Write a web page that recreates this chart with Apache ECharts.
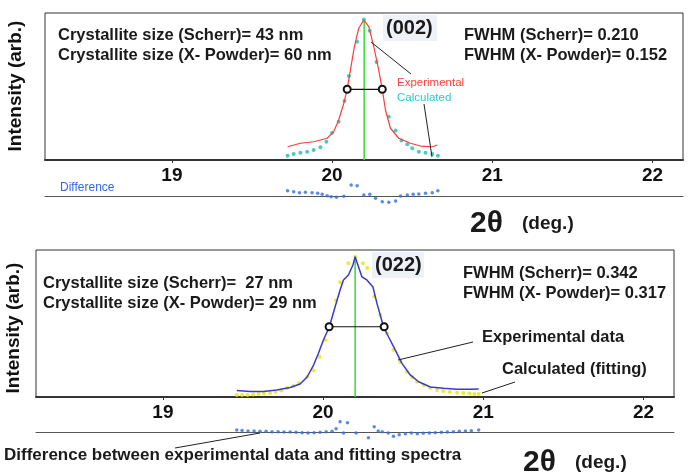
<!DOCTYPE html>
<html>
<head>
<meta charset="utf-8">
<script src="https://cdn.jsdelivr.net/npm/echarts@6/dist/echarts.min.js"></script>
<style>html,body{margin:0;background:#fff}</style>
</head>
<body>
<div id="chart" style="width:689px;height:474px"></div>
<script>
// tick labels of the 2-theta axis
var xTicks = [19, 20, 21, 22];

// (002) peak: experimental (red line), calculated (cyan dots), difference
var topExp = [[19.722,9.0],[19.802,11.4],[19.885,12.4],[19.969,14.8],[20.010,19.3],[20.041,27.2],[20.073,38.6],[20.094,48.1],[20.114,61.2],[20.139,77.1],[20.166,89.6],[20.198,95.2],[20.229,90.7],[20.260,77.1],[20.291,61.2],[20.313,48.1],[20.333,34.0],[20.364,21.6],[20.416,14.8],[20.489,11.4],[20.552,9.5],[20.625,9.0],[20.656,10.2]];
var topCalc = [[19.722,2.9],[19.760,4.1],[19.802,4.9],[19.844,5.6],[19.885,6.8],[19.927,8.6],[19.964,12.4],[20.000,18.6],[20.041,26.1],[20.077,40.1],[20.105,57.1],[20.156,80.5],[20.198,95.6],[20.235,88.0],[20.277,66.7],[20.314,49.0],[20.354,29.5],[20.396,20.0],[20.433,13.2],[20.469,10.7],[20.500,8.0],[20.541,5.6],[20.583,4.9],[20.625,4.1],[20.660,2.9]];
var topDiff = [[19.722,5.3],[19.760,4.3],[19.796,3.3],[19.833,3.7],[19.875,3.3],[19.910,2.7],[19.938,1.7],[19.969,0.3],[19.994,-0.7],[20.027,-1.3],[20.073,-0.3],[20.119,11],[20.156,10.3],[20.198,1],[20.235,1.7],[20.271,-2.3],[20.313,-5.7],[20.354,-6.3],[20.396,-5],[20.427,0],[20.469,1],[20.506,1.7],[20.541,2],[20.583,2.7],[20.625,3.3],[20.660,5.3]];
var topFwhm = [[20.094,48.1],[20.313,48.1]];
var topPeak = [[20.2,0],[20.2,95]];

// (022) peak: experimental (blue line), calculated (yellow dots), difference
var botExp = [[19.461,4.4],[19.544,3.7],[19.627,3.7],[19.711,4.8],[19.794,6.5],[19.856,8.8],[19.900,13.6],[19.938,21.1],[19.969,29.3],[20.002,38.8],[20.039,47.8],[20.075,61.4],[20.106,72.8],[20.127,79.6],[20.158,83.0],[20.186,89.8],[20.200,95.4],[20.217,89.8],[20.242,81.8],[20.273,79.6],[20.311,74.8],[20.336,63.7],[20.377,47.8],[20.408,41.0],[20.450,32.0],[20.492,22.9],[20.544,15.0],[20.596,10.4],[20.669,6.8],[20.752,5.9],[20.836,5.2],[20.919,5.2],[20.971,5.4]];
var botCalc = [[19.461,1.4],[19.494,1.4],[19.528,1.4],[19.563,1.7],[19.597,2.0],[19.631,2.4],[19.669,2.7],[19.703,3.4],[19.738,4.4],[19.775,6.1],[19.813,7.5],[19.850,9.3],[19.900,13.8],[19.939,18.2],[19.977,27.4],[20.013,38.8],[20.081,65.6],[20.106,78.1],[20.158,91.0],[20.200,95.4],[20.248,91.0],[20.275,87.8],[20.319,68.3],[20.356,55.8],[20.398,43.3],[20.439,32.0],[20.481,23.8],[20.523,17.2],[20.556,13.6],[20.586,10.4],[20.627,8.2],[20.669,6.1],[20.711,4.8],[20.750,4.1],[20.791,3.4],[20.836,2.9],[20.875,2.7],[20.913,2.4],[20.944,2.0],[20.971,2.0]];
var botDiff = [[19.461,2],[19.494,1.5],[19.531,1],[19.569,1],[19.606,0.7],[19.644,0.7],[19.681,0.3],[19.719,0.3],[19.756,0],[19.794,0],[19.831,-0.3],[19.869,-0.7],[19.906,-1],[19.944,-0.7],[19.981,-0.3],[20.019,0.3],[20.056,0.7],[20.081,3.3],[20.106,10.3],[20.127,-1],[20.152,9.3],[20.206,-1],[20.283,-5.7],[20.319,5.3],[20.344,1],[20.369,0.3],[20.406,-1],[20.439,-4.3],[20.475,-2.7],[20.513,-1.7],[20.550,-1],[20.588,-1.7],[20.625,-1.3],[20.663,-1],[20.700,-0.7],[20.738,-0.3],[20.775,0],[20.813,0.3],[20.850,0.7],[20.888,1],[20.925,1.3],[20.971,2]];
var botFwhm = [[20.0375,47.8],[20.381,47.8]];
var botPeak = [[20.2,0],[20.2,95]];

var FONT = 'Liberation Sans, Arial, sans-serif';

function mainX(g) {
  return {
    type: 'value', gridIndex: g, min: 18.208, max: 22.19,
    axisLine: {onZero: false, lineStyle: {color: '#333', width: 2}},
    axisTick: {customValues: xTicks, length: 3, lineStyle: {color: '#333'}},
    axisLabel: {customValues: xTicks, margin: 6, fontSize: 19, fontWeight: 'bold', color: '#111', fontFamily: FONT},
    splitLine: {show: false}
  };
}
function diffX(g) {
  return {
    type: 'value', gridIndex: g, min: 18.208, max: 22.19,
    axisLine: {onZero: true, lineStyle: {color: '#555', width: 1}},
    axisTick: {show: false}, axisLabel: {show: false}, splitLine: {show: false}
  };
}
function mainY(g) {
  return {type: 'value', gridIndex: g, min: 0, max: 100, show: false};
}
function diffY(g) {
  return {type: 'value', gridIndex: g, min: -15, max: 15, show: false};
}
function txt(x, y, s, size, extra) {
  var st = {x: x, y: y, text: s, font: 'bold ' + size + 'px ' + FONT, fill: '#1a1a1a', verticalAlign: 'middle'};
  if (extra) for (var k in extra) st[k] = extra[k];
  return {type: 'text', style: st, z: 10};
}
function vtxt(x, y, s) {
  return {type: 'text', x: x, y: y, rotation: Math.PI / 2, z: 10,
    style: {x: 0, y: 0, text: s, font: 'bold 19px ' + FONT, fill: '#111', align: 'center', verticalAlign: 'middle'}};
}
function seg(x1, y1, x2, y2) {
  return {type: 'line', shape: {x1: x1, y1: y1, x2: x2, y2: y2}, style: {stroke: '#222', lineWidth: 1}, z: 10};
}

var option = {
  backgroundColor: '#fff',
  animation: false,
  grid: [
    {left: 45, top: 13, width: 638, height: 147, show: true, borderColor: '#333', borderWidth: 1},
    {left: 45, top: 181, width: 638, height: 30},
    {left: 36, top: 250, width: 638, height: 147, show: true, borderColor: '#333', borderWidth: 1},
    {left: 36, top: 417, width: 638, height: 30}
  ],
  xAxis: [mainX(0), diffX(1), mainX(2), diffX(3)],
  yAxis: [mainY(0), diffY(1), mainY(2), diffY(3)],
  series: [
    {type: 'line', xAxisIndex: 0, yAxisIndex: 0, data: topPeak, showSymbol: false, lineStyle: {color: '#33dd33', width: 1.5}},
    {type: 'line', xAxisIndex: 0, yAxisIndex: 0, data: topExp, showSymbol: false, lineStyle: {color: '#ff3b3b', width: 1.2}},
    {type: 'scatter', xAxisIndex: 0, yAxisIndex: 0, data: topCalc, symbolSize: 4, itemStyle: {color: '#1fbcb5'}},
    {type: 'line', xAxisIndex: 0, yAxisIndex: 0, data: topFwhm, symbol: 'emptyCircle', symbolSize: 7, lineStyle: {color: '#111', width: 1.2}, itemStyle: {color: '#111'}},
    {type: 'scatter', xAxisIndex: 1, yAxisIndex: 1, data: topDiff, symbolSize: 3.5, itemStyle: {color: '#2e6be6'}},

    {type: 'line', xAxisIndex: 2, yAxisIndex: 2, data: botPeak, showSymbol: false, lineStyle: {color: '#33dd33', width: 1.5}},
    {type: 'line', xAxisIndex: 2, yAxisIndex: 2, data: botExp, showSymbol: false, lineStyle: {color: '#3a3acc', width: 1.5}},
    {type: 'scatter', xAxisIndex: 2, yAxisIndex: 2, data: botCalc, symbolSize: 4, itemStyle: {color: '#e6e600'}},
    {type: 'line', xAxisIndex: 2, yAxisIndex: 2, data: botFwhm, symbol: 'emptyCircle', symbolSize: 7, lineStyle: {color: '#111', width: 1.2}, itemStyle: {color: '#111'}},
    {type: 'scatter', xAxisIndex: 3, yAxisIndex: 3, data: botDiff, symbolSize: 3.5, itemStyle: {color: '#2e6be6'}}
  ],
  graphic: [
    // top panel
    vtxt(16, 86, 'Intensity (arb.)'),
    txt(58, 35, 'Crystallite size (Scherr)= 43 nm', 16.5),
    txt(58, 55, 'Crystallite size (X- Powder)= 60 nm', 16.5),
    txt(464, 35, 'FWHM (Scherr)= 0.210', 16.5),
    txt(464, 55, 'FWHM (X- Powder)= 0.152', 16.5),
    {type: 'rect', shape: {x: 383, y: 15, width: 54, height: 26}, style: {fill: '#eef1f8'}, z: 5},
    txt(386, 28, '(002)', 20),
    txt(397, 83, 'Experimental', 11.5, {font: '11.5px ' + FONT, fill: '#ff4040'}),
    txt(397, 98, 'Calculated', 11.5, {font: '11.5px ' + FONT, fill: '#30c8c8'}),
    seg(371, 42, 411, 74),
    seg(424, 104, 432, 157),
    txt(60, 188, 'Difference', 12, {font: '12px ' + FONT, fill: '#3366ee'}),
    txt(470, 224, '2θ', 30),
    txt(522, 224, '(deg.)', 19),
    // bottom panel
    vtxt(14, 328, 'Intensity (arb.)'),
    txt(43, 283, 'Crystallite size (Scherr)=  27 nm', 16.5),
    txt(43, 303, 'Crystallite size (X- Powder)= 29 nm', 16.5),
    txt(463, 273, 'FWHM (Scherr)= 0.342', 16.5),
    txt(463, 293, 'FWHM (X- Powder)= 0.317', 16.5),
    {type: 'rect', shape: {x: 372, y: 252, width: 52, height: 26}, style: {fill: '#eef1f8'}, z: 5},
    txt(375, 265, '(022)', 20),
    txt(482, 337, 'Experimental data', 16.5),
    seg(398, 360, 473, 342),
    txt(502, 369, 'Calculated (fitting)', 16.5),
    seg(482, 393, 515, 382),
    txt(4, 455, 'Difference between experimental data and fitting spectra', 17),
    seg(175, 448, 260, 433),
    txt(523, 463, '2θ', 30),
    txt(575, 463, '(deg.)', 19)
  ]
};

var chart = echarts.init(document.getElementById('chart'));
chart.setOption(option);
</script>
</body>
</html>
